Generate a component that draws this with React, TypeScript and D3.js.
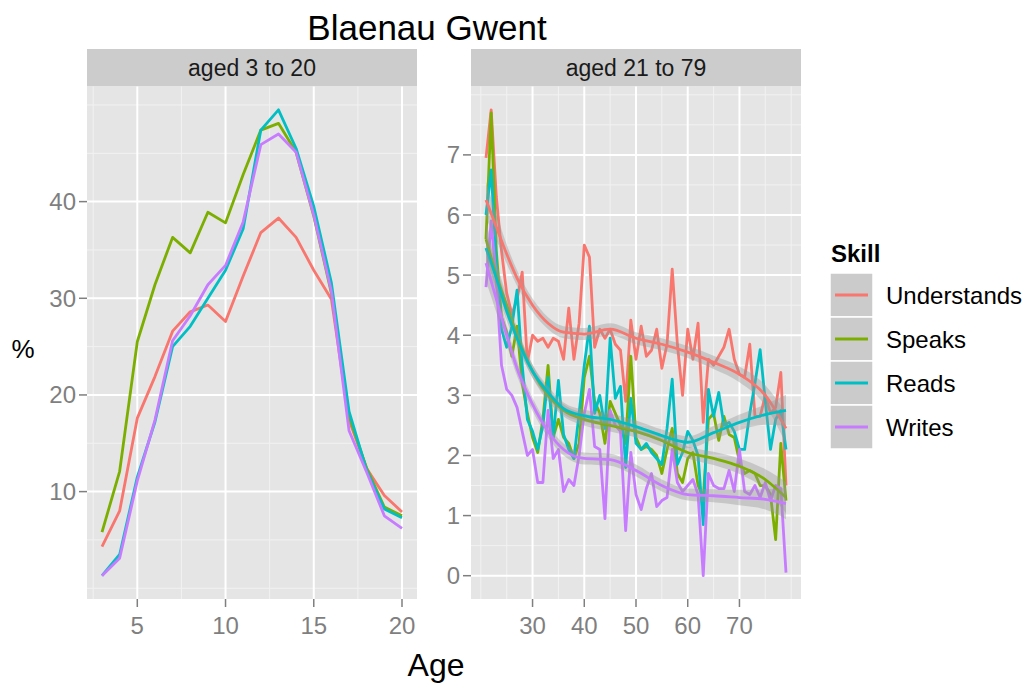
import React from "react";
import * as d3 from "d3";

// ---------- data ----------
const skills = ["Understands", "Speaks", "Reads", "Writes"];
const skillColors = ["#F8766D", "#7CAE00", "#00BFC4", "#C77CFF"];

const youngAges = [3, 4, 5, 6, 7, 8, 9, 10, 11, 12, 13, 14, 15, 16, 17, 18, 19, 20];
const youngUnderstands = [4.3, 8.0, 17.6, 21.9, 26.6, 28.6, 29.3, 27.6, 32.3, 36.8, 38.3, 36.3, 32.9, 29.9, 17.4, 12.4, 9.6, 7.9];
const youngSpeaks = [5.8, 12.1, 25.5, 31.4, 36.3, 34.7, 38.9, 37.8, 42.8, 47.4, 48.1, 45.1, 38.5, 30.5, 17.8, 12.4, 8.4, 7.5];
const youngReads = [1.3, 3.5, 11.5, 17.2, 25.0, 27.1, 30.0, 32.9, 37.2, 47.4, 49.5, 45.5, 39.5, 31.6, 18.3, 12.2, 8.2, 7.3];
const youngWrites = [1.3, 3.1, 11.1, 17.4, 25.6, 28.2, 31.4, 33.4, 37.9, 45.9, 47.0, 45.1, 38.6, 30.7, 16.3, 12.0, 7.5, 6.2];

const oldAges = [21, 22, 23, 24, 25, 26, 27, 28, 29, 30, 31, 32, 33, 34, 35, 36, 37, 38, 39, 40,
  41, 42, 43, 44, 45, 46, 47, 48, 49, 50, 51, 52, 53, 54, 55, 56, 57, 58, 59, 60,
  61, 62, 63, 64, 65, 66, 67, 68, 69, 70, 71, 72, 73, 74, 75, 76, 77, 78, 79];
const oldUnderstands = [6.95, 7.75, 6.3, 5.4, 4.7, 4.35, 4.6, 5.05, 3.55, 4.0, 3.9, 3.95, 3.8, 3.95, 3.9, 3.6, 4.45, 3.6, 4.2, 5.5,
  5.3, 3.8, 4.1, 3.95, 4.1, 3.85, 3.75, 2.9, 4.25, 3.6, 4.15, 3.65, 3.75, 4.1, 3.45, 3.85, 5.1, 3.85, 3.0, 4.1,
  3.6, 4.2, 2.55, 3.6, 3.5, 3.65, 3.8, 4.1, 3.6, 3.35, 3.3, 3.85, 2.65, 2.65, 3.0, 2.7, 2.8, 3.38, 1.5];
const oldSpeaks = [5.6, 7.7, 5.4, 4.3, 4.05, 3.65, 4.15, 3.2, 2.7, 2.3, 2.05, 2.6, 3.5, 2.3, 2.6, 2.3, 2.2, 1.95, 2.2, 3.3,
  3.65, 2.9, 2.7, 2.2, 2.9, 2.7, 2.5, 2.2, 3.65, 2.3, 2.1, 2.15, 2.1, 2.0, 1.7, 2.1, 2.45, 1.7, 1.55, 1.95,
  2.05, 1.5, 1.3, 2.6, 2.7, 2.25, 2.65, 2.35, 2.3, 1.9, 1.7, 1.75, 1.7, 1.5, 1.5, 1.35, 0.6, 2.2, 1.25];
const oldReads = [6.0, 6.75, 5.2, 4.1, 3.8, 4.15, 4.75, 3.5, 2.6, 2.4, 2.1, 2.5, 3.3, 2.3, 3.25, 2.35, 2.1, 1.95, 2.7, 3.5,
  4.15, 2.7, 3.0, 2.45, 3.95, 2.95, 3.15, 1.8, 2.95, 2.2, 2.1, 2.2, 2.05, 1.95, 1.85, 2.45, 3.27, 1.85, 2.05, 2.4,
  2.25, 2.0, 0.85, 3.1, 2.65, 3.05, 2.5, 2.55, 2.4, 2.1, 2.1, 2.7, 3.2, 3.76, 2.9, 2.1, 2.6, 2.75, 2.1];
const oldWrites = [4.8, 5.9, 4.9, 3.5, 3.1, 3.0, 2.8, 2.4, 2.0, 2.1, 1.55, 1.55, 2.75, 1.95, 2.1, 1.4, 1.6, 1.5, 2.0, 2.7,
  3.1, 2.15, 2.1, 0.95, 2.75, 2.5, 2.4, 0.75, 2.05, 1.35, 1.1, 1.45, 1.7, 1.15, 1.25, 1.3, 2.1, 1.55, 1.4, 1.5,
  1.6, 1.35, 0.0, 1.7, 1.5, 1.45, 1.45, 1.75, 1.4, 2.1, 1.4, 1.35, 1.5, 1.3, 1.55, 1.25, 1.5, 1.45, 0.05];

// loess smoothers (aged 21 to 79 panel)
const smoothAges = [21, 23, 25, 27, 30, 33, 36, 40, 45, 50, 55, 60, 65, 70, 75, 79];
const smoothUnderstands = [6.25, 5.8, 5.35, 4.95, 4.5, 4.2, 4.05, 4.02, 4.1, 3.95, 3.85, 3.72, 3.55, 3.35, 3.0, 2.45];
const smoothSpeaks = [5.6, 5.0, 4.5, 4.0, 3.4, 3.0, 2.75, 2.6, 2.5, 2.4, 2.25, 2.05, 1.95, 1.82, 1.6, 1.3];
const smoothReads = [5.45, 4.95, 4.4, 3.95, 3.4, 3.05, 2.78, 2.66, 2.6, 2.48, 2.33, 2.22, 2.38, 2.55, 2.68, 2.75];
const smoothWrites = [5.2, 4.6, 4.0, 3.45, 2.85, 2.4, 2.1, 1.95, 1.93, 1.75, 1.5, 1.35, 1.33, 1.3, 1.27, 1.2];
const smoothSe = [0.3, 0.22, 0.16, 0.13, 0.11, 0.1, 0.1, 0.1, 0.1, 0.1, 0.1, 0.1, 0.11, 0.13, 0.17, 0.26];

const leftYTicks = [10, 20, 30, 40];
const leftYMinor = [0, 5, 15, 25, 35, 45, 50];
const leftXTicks = [5, 10, 15, 20];
const leftXMinor = [2.5, 7.5, 12.5, 17.5];
const rightYTicks = [0, 1, 2, 3, 4, 5, 6, 7];
const rightYMinor = [0.5, 1.5, 2.5, 3.5, 4.5, 5.5, 6.5, 7.5, 8];
const rightXTicks = [30, 40, 50, 60, 70];
const rightXMinor = [20, 25, 35, 45, 55, 65, 75, 80];

const chartTitle = "Blaenau Gwent";
const stripLabels = ["aged 3 to 20", "aged 21 to 79"];
const xTitle = "Age";
const yTitle = "%";
const legendTitle = "Skill";

// ---------- layout ----------
const W = 1027;
const H = 685;
const FONT = "'Liberation Sans', Arial, Helvetica, sans-serif";
const panelTop = 86.5;
const panelBottom = 599;
const stripTop = 49;
const leftX = [87, 417];
const rightX = [471, 801];

function expanded(values: number[]): [number, number] {
  const [lo, hi] = d3.extent(values) as [number, number];
  const pad = (hi - lo) * 0.05;
  return [lo - pad, hi + pad];
}

type Series = { name: string; color: string; xs: number[]; ys: number[] };
type Smooth = { color: string; ys: number[] };

function Panel(props: {
  x0: number; x1: number; strip: string;
  xDomain: [number, number]; yDomain: [number, number];
  xTicks: number[]; xMinor: number[]; yTicks: number[]; yMinor: number[];
  series: Series[]; smooths?: Smooth[];
}) {
  const { x0, x1, strip, xDomain, yDomain, xTicks, xMinor, yTicks, yMinor, series, smooths } = props;
  const x = d3.scaleLinear().domain(xDomain).range([x0, x1]);
  const y = d3.scaleLinear().domain(yDomain).range([panelBottom, panelTop]);
  const line = d3.line<[number, number]>().x((d) => x(d[0])).y((d) => y(d[1]));
  const sLine = d3.line<[number, number]>().x((d) => x(d[0])).y((d) => y(d[1])).curve(d3.curveMonotoneX);
  const band = d3.area<[number, number, number]>()
    .x((d) => x(d[0])).y0((d) => y(d[1] - d[2])).y1((d) => y(d[1] + d[2])).curve(d3.curveMonotoneX);
  const tickColor = "#7F7F7F";
  return (
    <g>
      <rect x={x0} y={stripTop} width={x1 - x0} height={panelTop - stripTop} fill="#CCCCCC" />
      <text x={(x0 + x1) / 2} y={(stripTop + panelTop) / 2 + 8} textAnchor="middle" fontSize={23} fill="#1A1A1A">{strip}</text>
      <rect x={x0} y={panelTop} width={x1 - x0} height={panelBottom - panelTop} fill="#E5E5E5" />
      {yMinor.map((v) => (
        <line key={"ym" + v} x1={x0} x2={x1} y1={y(v)} y2={y(v)} stroke="#F2F2F2" strokeWidth={1} />
      ))}
      {xMinor.map((v) => (
        <line key={"xm" + v} x1={x(v)} x2={x(v)} y1={panelTop} y2={panelBottom} stroke="#F2F2F2" strokeWidth={1} />
      ))}
      {yTicks.map((v) => (
        <line key={"yg" + v} x1={x0} x2={x1} y1={y(v)} y2={y(v)} stroke="#FFFFFF" strokeWidth={2} />
      ))}
      {xTicks.map((v) => (
        <line key={"xg" + v} x1={x(v)} x2={x(v)} y1={panelTop} y2={panelBottom} stroke="#FFFFFF" strokeWidth={2} />
      ))}
      {series.map((s) => (
        <path key={s.name} d={line(s.xs.map((a, i) => [a, s.ys[i]] as [number, number])) || ""}
          fill="none" stroke={s.color} strokeWidth={2.8} strokeLinejoin="round" />
      ))}
      {smooths && smooths.map((s, k) => (
        <g key={"sm" + k}>
          <path d={band(smoothAges.map((a, i) => [a, s.ys[i], smoothSe[i]] as [number, number, number])) || ""}
            fill="#999999" fillOpacity={0.4} />
          <path d={sLine(smoothAges.map((a, i) => [a, s.ys[i]] as [number, number])) || ""}
            fill="none" stroke={s.color} strokeWidth={2.8} />
        </g>
      ))}
      {yTicks.map((v) => (
        <g key={"yt" + v}>
          <line x1={x0 - 8} x2={x0} y1={y(v)} y2={y(v)} stroke={tickColor} strokeWidth={1.5} />
          <text x={x0 - 11} y={y(v) + 8.5} textAnchor="end" fontSize={24} fill={tickColor}>{v}</text>
        </g>
      ))}
      {xTicks.map((v) => (
        <g key={"xt" + v}>
          <line x1={x(v)} x2={x(v)} y1={panelBottom} y2={panelBottom + 8} stroke={tickColor} strokeWidth={1.5} />
          <text x={x(v)} y={panelBottom + 35} textAnchor="middle" fontSize={24} fill={tickColor}>{v}</text>
        </g>
      ))}
    </g>
  );
}

export default function App() {
  const youngVals = [youngUnderstands, youngSpeaks, youngReads, youngWrites];
  const oldVals = [oldUnderstands, oldSpeaks, oldReads, oldWrites];
  const smoothVals = [smoothUnderstands, smoothSpeaks, smoothReads, smoothWrites];

  const youngSeries: Series[] = skills.map((n, i) => ({ name: n, color: skillColors[i], xs: youngAges, ys: youngVals[i] }));
  const oldSeries: Series[] = skills.map((n, i) => ({ name: n, color: skillColors[i], xs: oldAges, ys: oldVals[i] }));
  const smooths: Smooth[] = skills.map((n, i) => ({ color: skillColors[i], ys: smoothVals[i] }));

  const leftYDomain = expanded(youngVals.flat());
  const rightYDomain = expanded(oldVals.flat());

  const legendX = 830;
  const legendTop = 273;
  const keyH = 44;
  const keyW = 43;

  return (
    <svg width={W} height={H} style={{ position: "absolute", left: 0, top: 0, background: "#FFFFFF" }}
      fontFamily={FONT}>
      <rect x={0} y={0} width={W} height={H} fill="#FFFFFF" />
      <text x={427} y={40} textAnchor="middle" fontSize={35} fill="#000000">{chartTitle}</text>
      <Panel x0={leftX[0]} x1={leftX[1]} strip={stripLabels[0]}
        xDomain={expanded(youngAges)} yDomain={leftYDomain}
        xTicks={leftXTicks} xMinor={leftXMinor} yTicks={leftYTicks} yMinor={leftYMinor}
        series={youngSeries} />
      <Panel x0={rightX[0]} x1={rightX[1]} strip={stripLabels[1]}
        xDomain={expanded(oldAges)} yDomain={rightYDomain}
        xTicks={rightXTicks} xMinor={rightXMinor} yTicks={rightYTicks} yMinor={rightYMinor}
        series={oldSeries} smooths={smooths} />
      <text x={436} y={676} textAnchor="middle" fontSize={32} fill="#000000">{xTitle}</text>
      <text x={23} y={358} textAnchor="middle" fontSize={26} fill="#000000">{yTitle}</text>
      <text x={831} y={262} fontSize={24} fontWeight="bold" fill="#000000">{legendTitle}</text>
      {skills.map((s, i) => {
        const cy = legendTop + i * keyH + keyH / 2;
        return (
          <g key={"lg" + s}>
            <rect x={legendX} y={legendTop + i * keyH} width={keyW} height={keyH} fill="#CBCBCB" stroke="#FFFFFF" strokeWidth={1.5} />
            <line x1={legendX + 5} x2={legendX + keyW - 5} y1={cy} y2={cy} stroke={skillColors[i]} strokeWidth={3} />
            <text x={886} y={cy + 8.5} fontSize={24} fill="#000000">{s}</text>
          </g>
        );
      })}
    </svg>
  );
}
